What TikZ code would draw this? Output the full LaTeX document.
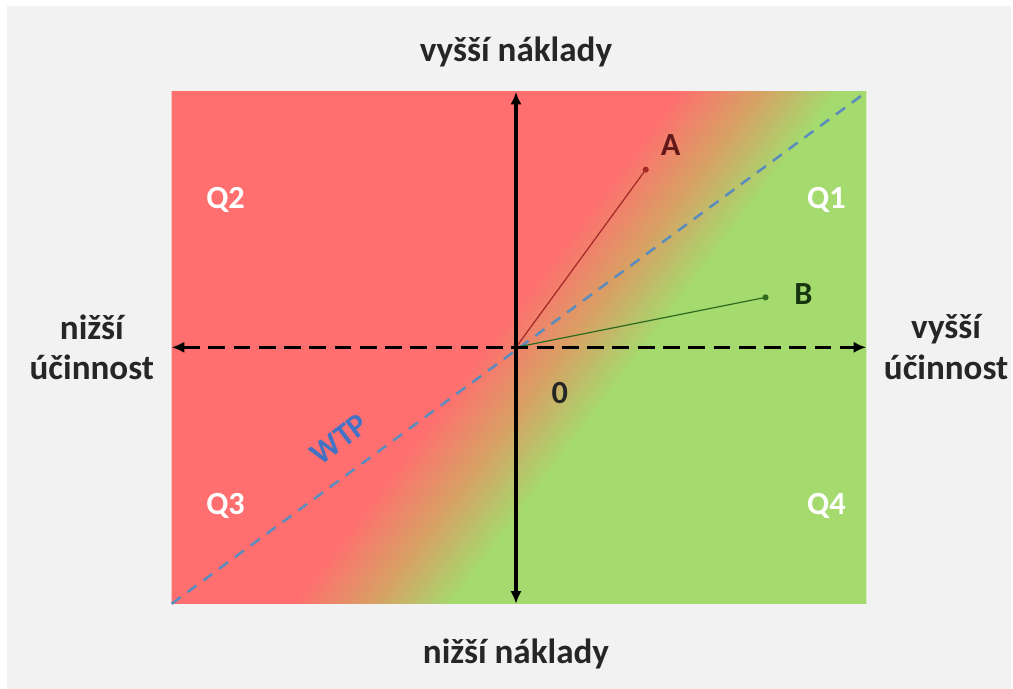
\documentclass[tikz,border=0pt]{standalone}
\usepackage{fontspec}
\setmainfont{Carlito}
\usetikzlibrary{arrows.meta}
\definecolor{quadRed}{HTML}{FF6F6F}
\definecolor{quadGreen}{HTML}{A5DA6E}
\definecolor{quadMid}{HTML}{D9A064}
\definecolor{wtpBlue}{HTML}{5B8CBE}
\definecolor{wtpText}{HTML}{4472C4}
\definecolor{bgGray}{HTML}{F2F2F2}
\definecolor{vecA}{HTML}{A52A2A}
\definecolor{vecB}{HTML}{2F6B1F}

\tikzset{
  axislabel/.style={font=\bfseries\fontsize{25}{29}\selectfont, text=black!85, align=center},
  quadlabel/.style={font=\bfseries\fontsize{23}{26}\selectfont, text=white},
  pointlabel/.style={font=\bfseries\fontsize{23}{26}\selectfont},
  axisline/.style={line width=2.2pt, {Latex[length=9pt,width=8pt]}-{Latex[length=9pt,width=8pt]}},
  vecline/.style={line width=0.9pt},
}

\begin{document}
\begin{tikzpicture}[x=0.025cm,y=0.025cm]
% background
\fill[white] (0,0) rectangle (1013,690);
\fill[bgGray] (7,0) rectangle (1013,684);

% coloured plane, red to green across a band
\begin{scope}
  \clip (172,85) rectangle (868,598);
  \begin{scope}[shift={(567,342)},rotate=53]
    \fill[quadRed] (-1200,64) rectangle (1200,1200);
    \fill[quadGreen] (-1200,-64) rectangle (1200,-1200);
    \foreach \i in {0,...,49}{
      \pgfmathtruncatemacro{\pa}{min(100,4.08*\i)}
      \pgfmathtruncatemacro{\pb}{max(0,4.08*\i-100)}
      \fill[quadGreen!\pb!quadMid!\pa!quadRed] (-1200,65-2.6*\i) rectangle (1200,65-2.6*\i-3.2);
    }
  \end{scope}
\end{scope}

\coordinate (o) at (517,342);
\coordinate (top) at (517,598);
\coordinate (bottom) at (517,85);
\coordinate (left) at (172,342);
\coordinate (right) at (868,342);
\coordinate (wtpS) at (172,85);
\coordinate (wtpE) at (867,597);
\coordinate (ptA) at (647,520);
\coordinate (ptB) at (767,392);

% WTP line
\draw[wtpBlue, line width=1.8pt, dash pattern=on 8pt off 6pt] (wtpS) -- (wtpE);

% vectors
\draw[vecA, vecline] (o) -- (ptA);
\fill[vecA] (ptA) circle (2.2pt);
\draw[vecB, vecline] (o) -- (ptB);
\fill[vecB] (ptB) circle (2.2pt);

% axes
\draw[axisline, dash pattern=on 12pt off 6pt] (left) -- (right);
\draw[axisline] (bottom) -- (top);

% labels
\node[axislabel] (costHi) at (517,638) {vyšší náklady};
\node[axislabel] (costLo) at (517,35) {nižší náklady};
\node[axislabel] (effLo) at (92,342) {nižší\\účinnost};
\node[axislabel] (effHi) at (948,342) {vyšší\\účinnost};
\node[pointlabel, text=black!85] (zero) at (561,296) {0};
\node[pointlabel, text=vecA!60!black] (labA) at (672,545) {A};
\node[pointlabel, text=vecB!50!black] (labB) at (805,395) {B};
\node[font=\bfseries\fontsize{23}{26}\selectfont, text=wtpText, rotate=37, inner sep=1pt] (wtp) at (340,250) {WTP};

\node[quadlabel] (q1) at (828,490) {Q1};
\node[quadlabel] (q2) at (226,490) {Q2};
\node[quadlabel] (q3) at (226,183) {Q3};
\node[quadlabel] (q4) at (828,183) {Q4};
\end{tikzpicture}
\end{document}
